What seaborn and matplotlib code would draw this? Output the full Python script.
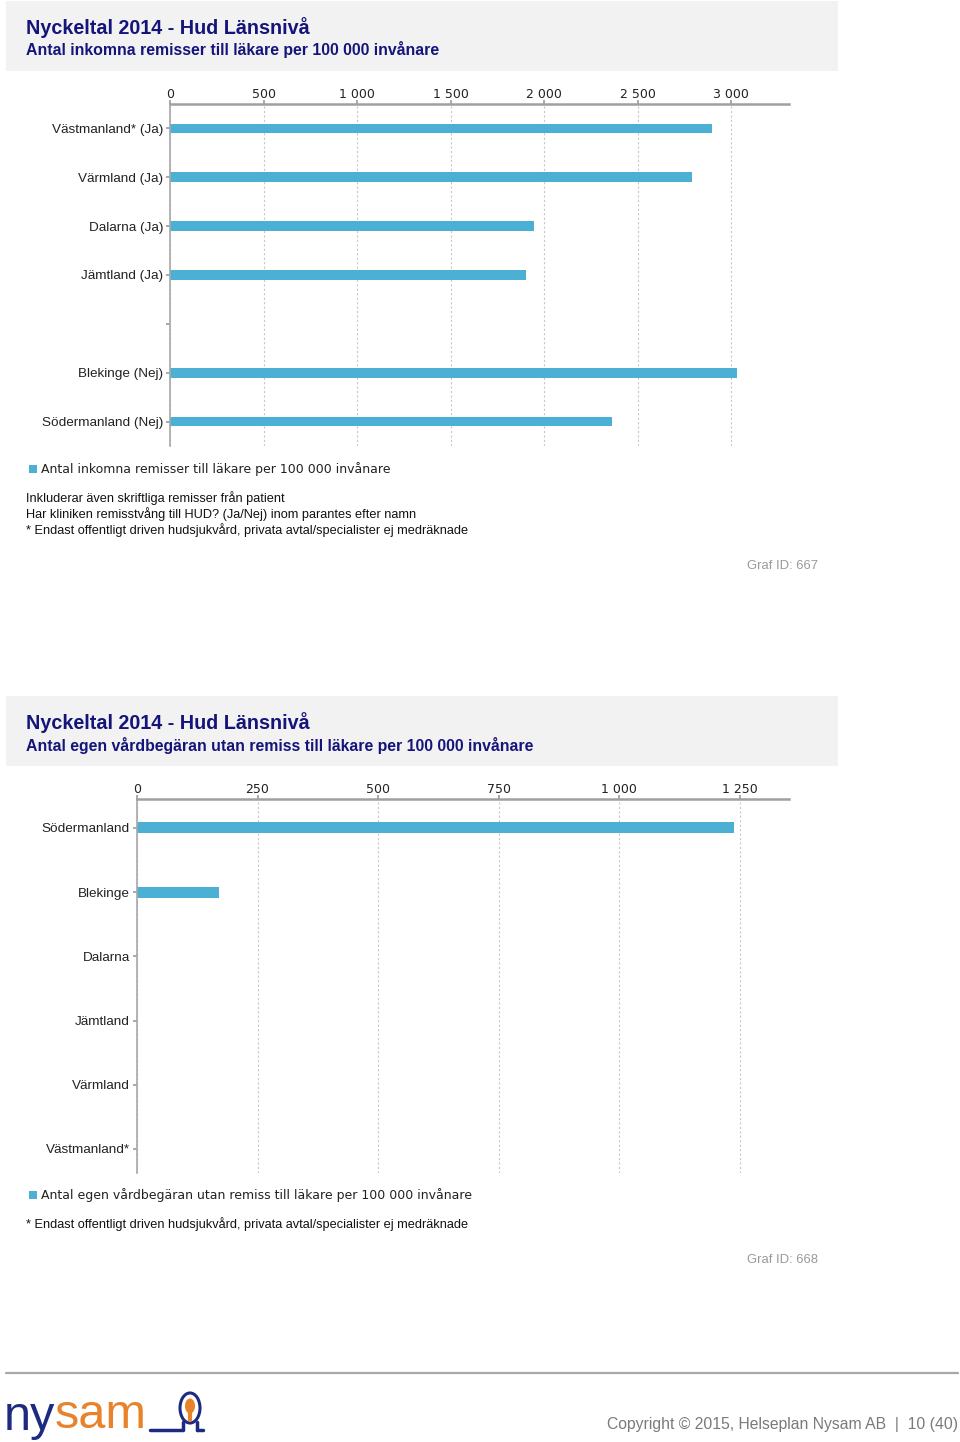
import matplotlib
matplotlib.use("Agg")
import matplotlib.pyplot as plt
import matplotlib.patches as mpatches
from matplotlib.lines import Line2D
from matplotlib.ticker import FuncFormatter
import seaborn as sns
import pandas as pd

# ---------------- data ----------------
title_main = "Nyckeltal 2014 - Hud Länsnivå"

c1_subtitle = "Antal inkomna remisser till läkare per 100 000 invånare"
c1_categories = ["Västmanland* (Ja)", "Värmland (Ja)", "Dalarna (Ja)", "Jämtland (Ja)",
                 "Blekinge (Nej)", "Södermanland (Nej)"]
c1_values = [2899, 2792, 1949, 1901, 3033, 2365]
c1_order = ["Västmanland* (Ja)", "Värmland (Ja)", "Dalarna (Ja)", "Jämtland (Ja)", "",
            "Blekinge (Nej)", "Södermanland (Nej)"]
c1_ticks = [0, 500, 1000, 1500, 2000, 2500, 3000]
c1_notes = ["Inkluderar även skriftliga remisser från patient",
            "Har kliniken remisstvång till HUD? (Ja/Nej) inom parantes efter namn",
            "* Endast offentligt driven hudsjukvård, privata avtal/specialister ej medräknade"]
c1_id = "Graf ID: 667"

c2_subtitle = "Antal egen vårdbegäran utan remiss till läkare per 100 000 invånare"
c2_categories = ["Södermanland", "Blekinge", "Dalarna", "Jämtland", "Värmland", "Västmanland*"]
c2_values = [1237, 171, 0, 0, 0, 0]
c2_ticks = [0, 250, 500, 750, 1000, 1250]
c2_notes = ["* Endast offentligt driven hudsjukvård, privata avtal/specialister ej medräknade"]
c2_id = "Graf ID: 668"

copyright_text = "Copyright © 2015, Helseplan Nysam AB  |  10 (40)"

# ---------------- style ----------------
sns.set_theme(style="white")
plt.rcParams["font.family"] = ["Liberation Sans", "DejaVu Sans"]

W, H = 960, 1442
fig = plt.figure(figsize=(W / 100, H / 100), dpi=100)

BAR = "#4cb0d5"
NAVY = "#14147a"
GRID = "#c8c8c8"
AXIS = "#a0a0a0"
TXT = "#222222"


def fx(px):
    return px / W


def fy(py):
    return 1 - py / H


def thousands(v, _):
    return f"{int(v):,}".replace(",", " ")


def header(top, bottom, subtitle):
    fig.patches.append(mpatches.Rectangle((fx(6), fy(bottom)), fx(838) - fx(6), fy(top) - fy(bottom),
                                          transform=fig.transFigure, facecolor="#f2f2f2",
                                          edgecolor="none", zorder=0))
    fig.text(fx(26), fy(top + 27), title_main, color=NAVY, fontsize=14.25, fontweight="bold",
             va="center", ha="left")
    fig.text(fx(26), fy(top + 49), subtitle, color=NAVY, fontsize=11.4, fontweight="bold",
             va="center", ha="left")


def chart(rect, cats, vals, order, ticks, xmax, width, ylim):
    ax = fig.add_axes(rect)
    df = pd.DataFrame({"cat": cats, "val": vals})
    sns.barplot(data=df, y="cat", x="val", order=order, orient="h", color=BAR,
                saturation=1, width=width, linewidth=0, ax=ax, errorbar=None)
    ax.set_xlim(0, xmax)
    ax.set_ylim(*ylim)
    ax.set_xticks(ticks)
    ax.xaxis.set_major_formatter(FuncFormatter(thousands))
    ax.xaxis.tick_top()
    ax.set_xlabel("")
    ax.set_ylabel("")
    ax.grid(axis="x", color=GRID, linestyle=(0, (2, 2)), linewidth=0.8)
    ax.set_axisbelow(True)
    for s in ["right", "bottom"]:
        ax.spines[s].set_visible(False)
    ax.spines["top"].set_color(AXIS)
    ax.spines["top"].set_linewidth(1.8)
    ax.spines["left"].set_color("#a8a8a8")
    ax.spines["left"].set_linewidth(1.2)
    ax.spines["left"].set_linestyle((0, (2, 1)))
    ax.tick_params(axis="x", top=True, bottom=False, length=3, color=AXIS, labelsize=9.0,
                   labelcolor=TXT, pad=-1)
    for lab in ax.get_xticklabels():
        lab.set_family(["DejaVu Sans"])
    ax.tick_params(axis="y", left=True, length=3, color=AXIS, labelsize=9.7,
                   labelcolor=TXT, pad=2)
    return ax


def legend_and_notes(y_leg, label, notes, y_note0, y_id, gid):
    fig.patches.append(mpatches.Rectangle((fx(29), fy(y_leg + 4)), fx(8), 8 / H,
                                          transform=fig.transFigure, facecolor=BAR,
                                          edgecolor="none"))
    fig.text(fx(41), fy(y_leg), label, fontsize=9.0, color=TXT, va="center", ha="left",
             family=["DejaVu Sans"])
    for i, n in enumerate(notes):
        fig.text(fx(26), fy(y_note0 + 16 * i), n, fontsize=9.2, color="#111111",
                 va="center", ha="left")
    fig.text(fx(818), fy(y_id), gid, fontsize=9.4, color="#9a9a9a", va="center", ha="right")


# ---------------- chart 1 ----------------
header(1, 71, c1_subtitle)
chart([fx(170), fy(446), fx(789) - fx(170), fy(104) - fy(446)],
      c1_categories, c1_values, c1_order, c1_ticks, 3310, 0.2, (6.5, -0.5))
legend_and_notes(469, c1_subtitle, c1_notes, 498, 566, c1_id)

# ---------------- chart 2 ----------------
header(696, 766, c2_subtitle)
chart([fx(137), fy(1173), fx(789) - fx(137), fy(799) - fy(1173)],
      c2_categories, c2_values, c2_categories, c2_ticks, 1352, 0.17, (5.375, -0.45))
legend_and_notes(1195, c2_subtitle, c2_notes, 1224, 1260, c2_id)

# ---------------- footer ----------------
fig.add_artist(Line2D([fx(6), fx(958)], [fy(1373), fy(1373)], transform=fig.transFigure,
                      color="#a8a8a8", linewidth=1.6))
fig.text(fx(4), fy(1418), "ny", fontsize=35, color="#1c2a80", va="center", ha="left")
fig.text(fx(55), fy(1415), "sam", fontsize=35, color="#e8832b", va="center", ha="left")
fig.add_artist(Line2D([fx(150), fx(183), fx(183)], [fy(1430), fy(1430), fy(1422)],
                      transform=fig.transFigure, color="#1c2a80", linewidth=2.5))
fig.add_artist(Line2D([fx(197), fx(197)], [fy(1422), fy(1430)],
                      transform=fig.transFigure, color="#1c2a80", linewidth=2.5))
fig.add_artist(Line2D([fx(197), fx(203)], [fy(1430), fy(1430)],
                      transform=fig.transFigure, color="#1c2a80", linewidth=2.5))
fig.patches.append(mpatches.Circle((fx(190), fy(1408)), 10 / W, transform=fig.transFigure,
                                   facecolor="white", edgecolor="#1c2a80", linewidth=2.2))
fig.patches.append(mpatches.Circle((fx(190), fy(1406)), 5 / W, transform=fig.transFigure,
                                   facecolor="#e8832b", edgecolor="none"))
fig.add_artist(Line2D([fx(190), fx(190)], [fy(1409), fy(1420)], transform=fig.transFigure,
                      color="#e8832b", linewidth=3))
fig.text(fx(958), fy(1425), copyright_text, fontsize=11.3, color="#7a7a7a", va="center",
         ha="right")

fig.savefig("out.png", dpi=100, facecolor="white")
